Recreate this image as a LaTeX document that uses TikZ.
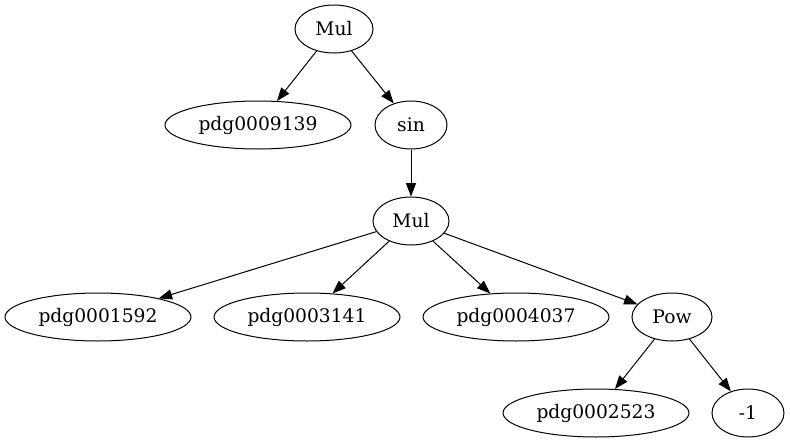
\documentclass[tikz,border=0pt]{standalone}
\usepackage{fontspec}
\setmainfont{DejaVu Serif}
\usetikzlibrary{arrows.meta,shapes.geometric}

\begin{document}
\begin{tikzpicture}[x=0.75pt,y=0.75pt,yscale=-1,xscale=1,
    op/.style={draw,ellipse,line width=0.75pt,inner sep=0pt,minimum height=36pt,font=\fontsize{14pt}{16pt}\selectfont},
    edge/.style={-{Triangle[length=10pt,width=7.5pt]},line width=0.75pt}]
   	\useasboundingbox (0,0) rectangle (790,443);
   	
   	\node [op,minimum width=58.5pt] (mul1) at (334,29) {Mul};
   	\node [op,minimum width=139.5pt] (p9139) at (258,125) {pdg0009139};
   	\node [op,minimum width=54pt] (sin) at (411,125) {sin};
   	\node [op,minimum width=57pt] (mul2) at (411,221) {Mul};
   	
   	\node [op,minimum width=139.5pt] (p1592) at (98,317) {pdg0001592};
   	\node [op,minimum width=139.5pt] (p3141) at (307,317) {pdg0003141};
   	\node [op,minimum width=139.5pt] (p4037) at (516,317) {pdg0004037};
   	\node [op,minimum width=60pt] (pow) at (672,317) {Pow};
   	
   	\node [op,minimum width=139.5pt] (p2523) at (596,413) {pdg0002523};
   	\node [op,minimum width=54pt] (m1) at (748,413) {-1};
   	
   	\draw [edge] (mul1) -- (p9139);
   	\draw [edge] (mul1) -- (sin);
   	\draw [edge] (sin) -- (mul2);
   	\draw [edge] (mul2) -- (p1592);
   	\draw [edge] (mul2) -- (p3141);
   	\draw [edge] (mul2) -- (p4037);
   	\draw [edge] (mul2) -- (pow);
   	\draw [edge] (pow) -- (p2523);
   	\draw [edge] (pow) -- (m1);
   	
\end{tikzpicture}
\end{document}
